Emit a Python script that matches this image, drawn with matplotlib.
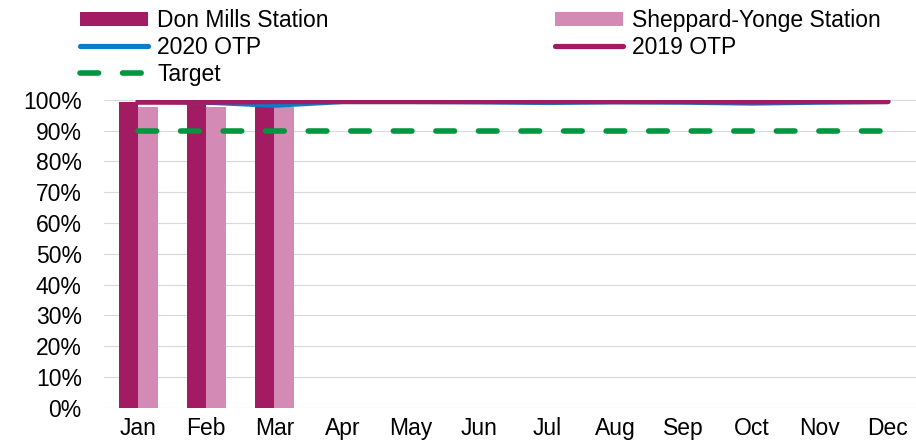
import numpy as np
import matplotlib
matplotlib.use("Agg")
import matplotlib.pyplot as plt
from matplotlib.ticker import PercentFormatter

plt.rcParams['font.family'] = ['Liberation Sans', 'DejaVu Sans']
plt.rcParams['font.size'] = 16.5

meses = ["Jan", "Feb", "Mar", "Apr", "May", "Jun",
         "Jul", "Aug", "Sep", "Oct", "Nov", "Dec"]

# percentuais
don_mills = [99.35, 99.6, 98.5]
sheppard_yonge = [97.7, 97.7, 97.7]
otp_2020 = [99.6, 99.2, 98.2, 99.4, 99.4, 99.3, 99.1, 99.3, 99.2, 98.9, 99.2, 99.4]
otp_2019 = [99.2, 99.2, 99.4, 99.4, 99.4, 99.4, 99.4, 99.4, 99.4, 99.3, 99.4, 99.4]
meta = [90] * 12

cor_dm = "#A21B63"
cor_sy = "#D38BB5"
cor_2020 = "#0A7DC8"
cor_2019 = "#A21B63"
cor_meta = "#00953F"

fig = plt.figure(figsize=(9.16, 4.4), dpi=100)
ax = fig.add_axes([104 / 916, 32.3 / 440, 818 / 916, 308 / 440])

x = np.arange(len(meses))
largura = 0.286

barras_dm = ax.bar(x[:len(don_mills)] - largura / 2, don_mills, largura,
                   color=cor_dm, label="Don Mills Station", zorder=2)
barras_sy = ax.bar(x[:len(sheppard_yonge)] + largura / 2, sheppard_yonge, largura,
                   color=cor_sy, label="Sheppard-Yonge Station", zorder=2)

linha_meta, = ax.plot(x, meta, color=cor_meta, lw=4, dashes=(3.35, 4.31),
                      dash_capstyle="round", label="Target", zorder=3)
linha_2020, = ax.plot(x, otp_2020, color=cor_2020, lw=3.75,
                      solid_capstyle="round", label="2020 OTP", zorder=4)
linha_2019, = ax.plot(x, otp_2019, color=cor_2019, lw=3.75,
                      solid_capstyle="round", label="2019 OTP", zorder=5)

ax.set_xlim(-0.5, 11.5)
ax.set_ylim(0, 100)
ax.set_yticks(np.arange(0, 101, 10))
ax.yaxis.set_major_formatter(PercentFormatter(decimals=0))
ax.set_xticks(x)
ax.set_xticklabels(meses)
ax.tick_params(axis="both", length=0, colors="black")
ax.tick_params(axis="y", pad=16)
ax.tick_params(axis="x", pad=7)

ax.grid(axis="y", color="#D9D9D9", lw=0.8, zorder=0)
ax.set_axisbelow(True)
for lado in ax.spines.values():
    lado.set_visible(False)

handles = [barras_dm, linha_2020, linha_meta, barras_sy, linha_2019]
rotulos = [h.get_label() for h in handles]
fig.legend(handles, rotulos, ncol=2, loc="upper left",
           bbox_to_anchor=(80 / 916, 1 - 9 / 440), frameon=False,
           borderpad=0, borderaxespad=0, handlelength=2.97, handleheight=0.52,
           handletextpad=0.39, columnspacing=9.87, labelspacing=0.17)

fig.savefig("out.png", dpi=100)
